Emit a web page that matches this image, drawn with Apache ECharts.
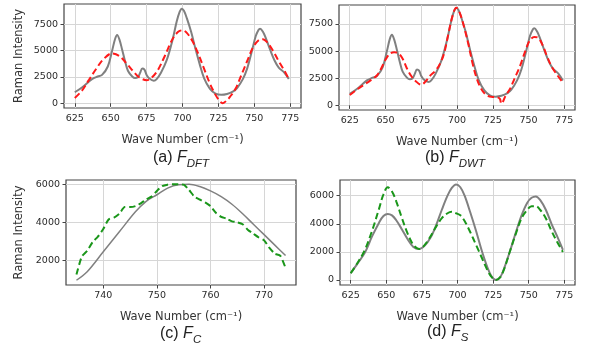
<!DOCTYPE html>
<html><head><meta charset="utf-8">
<script src="https://cdn.jsdelivr.net/npm/echarts@6/dist/echarts.min.js"></script>
<style>html,body{margin:0;padding:0;background:#fff}#c{width:591px;height:351px}</style>
</head><body><div id="c"></div>
<script>
// ---- data ----
const xTicksFull = [625, 650, 675, 700, 725, 750, 775];
const xTicksC = [740, 750, 760, 770];
const yTicksAB = [0, 2500, 5000, 7500];
const yTicksC = [2000, 4000, 6000];
const yTicksD = [0, 2000, 4000, 6000];

const origX = [625,630,637,641,644,648,651,653,654.5,656,658,660,662,665,667,669,670.5,672,673.5,675,677,680,682,685,689,693,696,698,699.5,701,703,706,709,712,715,719,723,727,731,735,738,742,745,748,751,753,754,756,758,761,764,767,771,774];
const origY = [1050,1500,2300,2550,2700,3500,5000,6100,6500,6100,5100,4000,3100,2550,2400,2500,2900,3300,3200,2700,2350,2150,2300,2900,4100,6000,7800,8700,9000,8800,8100,6800,5200,3700,2400,1400,920,800,880,1100,1450,2300,3300,4800,6400,7000,7100,6800,6200,5100,4100,3400,2900,2300];

const dftX = [625,630,635,640,645,651,656,661,666,670,675,679,683,688,693,697,700,703,707,711,715,719,723,726,728,731,733,737,741,745,749,753,756,759,763,767,771,774];
const dftY = [500,1200,2250,3300,4200,4750,4500,3800,3000,2450,2200,2500,3200,4600,6100,6800,6950,6700,5900,4700,3300,1900,800,200,0,300,600,1400,2700,4000,5300,6000,6100,5800,5000,4000,3100,2300];

const dwtX = [625,630,635,640,644,647,650,653,656,659,662,665,668,671,675,678,681,685,688,691,694,697,699.5,702,705,708,711,714,717,720,724,728,730,731,732,734,737,740,744,748,751,754,757,760,763,766,770,774];
const dwtY = [950,1450,1900,2350,2750,3400,4200,4750,4900,4800,4300,3400,2700,2250,1900,2200,2700,3200,3800,4800,6600,8300,9000,8500,7200,5600,3800,2400,1500,1000,780,750,600,150,300,900,1500,2400,3600,5100,6000,6300,6200,5500,4500,3600,2800,2100];

const cX = [735,737,740,743,746,748,750,752,754,756,758,760,762,764,766,768,770,772,774];
const cGray = [950,1400,2450,3500,4550,5100,5450,5800,5980,6000,5880,5650,5350,4950,4450,3900,3350,2800,2250];
const cGreenX = [735,736,737,738,739,740,741,742,743,744,745,746,747,748,749,750,751,752,753,754,755,756,757,758,759,760,761,762,763,764,765,766,767,768,769,770,771,772,773,774];
const cGreen = [1250,2200,2500,2950,3250,3650,4150,4250,4450,4800,4800,4850,5000,5200,5350,5650,5900,5980,6000,6000,5980,5700,5350,5200,5050,4850,4500,4280,4200,4050,4000,3900,3600,3400,3200,3050,2650,2350,2250,1600];

const dX = [625,630,635,640,645,648,651,654,657,661,665,669,673,677,681,685,689,693,696,699,702,705,709,713,717,721,724,727,730,733,737,741,745,749,752,755,758,762,766,770,774];
const dGray = [480,1200,1950,3100,4100,4550,4700,4600,4250,3600,2900,2350,2200,2450,3000,3900,5000,6000,6550,6800,6600,6000,4800,3500,2100,900,250,0,200,900,2100,3400,4600,5500,5850,5950,5700,5000,4000,3100,2150];
const dGreen = [480,1250,2150,3500,5100,6100,6600,6300,5600,4400,3300,2500,2200,2500,3100,3800,4400,4750,4850,4750,4600,4200,3400,2500,1600,700,200,0,200,850,2100,3300,4400,5000,5250,5250,5000,4400,3500,2700,2000];

const xName = 'Wave Number (cm\u207B\u00B9)';
const yName = 'Raman Intensity';

// ---- chart ----
const zip = (xs, ys) => xs.map((x, i) => [x, ys[i]]);
const FONT = 'DejaVu Sans';
const FRAME = '#444';
const GRIDC = '#d6d6d6';
const plain = v => String(Math.round(v));

function xAxis(gi, min, max, ticks) {
  return {
    type: 'value', gridIndex: gi, min, max,
    name: xName, nameLocation: 'middle', nameGap: 26,
    nameTextStyle: { fontFamily: FONT, fontSize: 11.5, color: '#333' },
    axisLine: { show: false },
    axisTick: { show: true, length: 3.5, customValues: ticks, lineStyle: { color: FRAME, width: 1 } },
    axisLabel: { customValues: ticks, formatter: plain, fontFamily: FONT, fontSize: 9.5, color: '#2a2a2a', margin: 6 },
    splitLine: { show: true, lineStyle: { color: GRIDC, width: 1 } }
  };
}
function yAxis(gi, min, max, ticks, showName, gap) {
  return {
    type: 'value', gridIndex: gi, min, max,
    name: showName ? yName : '', nameLocation: 'middle', nameGap: gap || 38,
    nameTextStyle: { fontFamily: FONT, fontSize: 11.5, color: '#333' },
    axisLine: { show: false },
    axisTick: { show: true, length: 3.5, customValues: ticks, lineStyle: { color: FRAME, width: 1 } },
    axisLabel: { customValues: ticks, formatter: plain, fontFamily: FONT, fontSize: 9.5, color: '#2a2a2a', margin: 6 },
    splitLine: { show: true, lineStyle: { color: GRIDC, width: 1 } }
  };
}
function line(gi, data, color, width, dashed, smooth) {
  return {
    type: 'line', xAxisIndex: gi, yAxisIndex: gi, data, showSymbol: false, symbol: 'none',
    smooth: smooth, lineStyle: { color, width, type: dashed ? [6.5, 3.5] : 'solid' }, silent: true, z: dashed ? 3 : 2
  };
}
function caption(x, y, label, sub) {
  return {
    type: 'text', x, y, silent: true,
    style: {
      text: '{n|' + label + ' }{f|F}{s|' + sub + '}',
      verticalAlign: 'top',
      rich: {
        n: { fontFamily: 'Liberation Sans', fontSize: 16, lineHeight: 20, verticalAlign: 'top', fill: '#222' },
        f: { fontFamily: 'Liberation Sans', fontSize: 16, fontStyle: 'italic', lineHeight: 20, verticalAlign: 'top', fill: '#222' },
        s: { fontFamily: 'Liberation Sans', fontSize: 11.5, fontStyle: 'italic', lineHeight: 8, verticalAlign: 'bottom', fill: '#222' }
      }
    }
  };
}
const gridStyle = { show: true, borderColor: FRAME, borderWidth: 1.2, backgroundColor: 'transparent' };
const option = {
  animation: false,
  grid: [
    Object.assign({ left: 64, top: 4, width: 237, height: 104 }, gridStyle),
    Object.assign({ left: 339, top: 5, width: 236, height: 105 }, gridStyle),
    Object.assign({ left: 66, top: 180, width: 230, height: 105 }, gridStyle),
    Object.assign({ left: 340, top: 180, width: 235, height: 105 }, gridStyle)
  ],
  xAxis: [
    xAxis(0, 617.5, 782.5, xTicksFull),
    xAxis(1, 617.5, 782.5, xTicksFull),
    xAxis(2, 733.05, 775.95, xTicksC),
    xAxis(3, 617.5, 782.5, xTicksFull)
  ],
  yAxis: [
    yAxis(0, -450, 9450, yTicksAB, true, 39),
    yAxis(1, -430, 9250, yTicksAB, false),
    yAxis(2, 700, 6226, yTicksC, true, 41),
    yAxis(3, -356, 7117, yTicksD, false)
  ],
  series: [
    line(0, zip(origX, origY), '#808080', 2, false, 0.35),
    line(0, zip(dftX, dftY), '#ff1a1a', 2, true, 0.35),
    line(1, zip(origX, origY), '#808080', 2, false, 0.35),
    line(1, zip(dwtX, dwtY), '#ff1a1a', 2, true, 0.35),
    line(2, zip(cX, cGray), '#808080', 1.5, false, 0.35),
    line(2, zip(cGreenX, cGreen), '#1a961a', 2, true, 0.2),
    line(3, zip(dX, dGray), '#808080', 2, false, 0.35),
    line(3, zip(dX, dGreen), '#1a961a', 2, true, 0.35)
  ],
  graphic: [
    caption(153, 150, '(a)', 'DFT'),
    caption(425, 150, '(b)', 'DWT'),
    caption(160, 326, '(c)', 'C'),
    caption(427, 324, '(d)', 'S')
  ]
};
const chart = echarts.init(document.getElementById('c'), null, { renderer: 'canvas' });
chart.setOption(option);
</script></body></html>
